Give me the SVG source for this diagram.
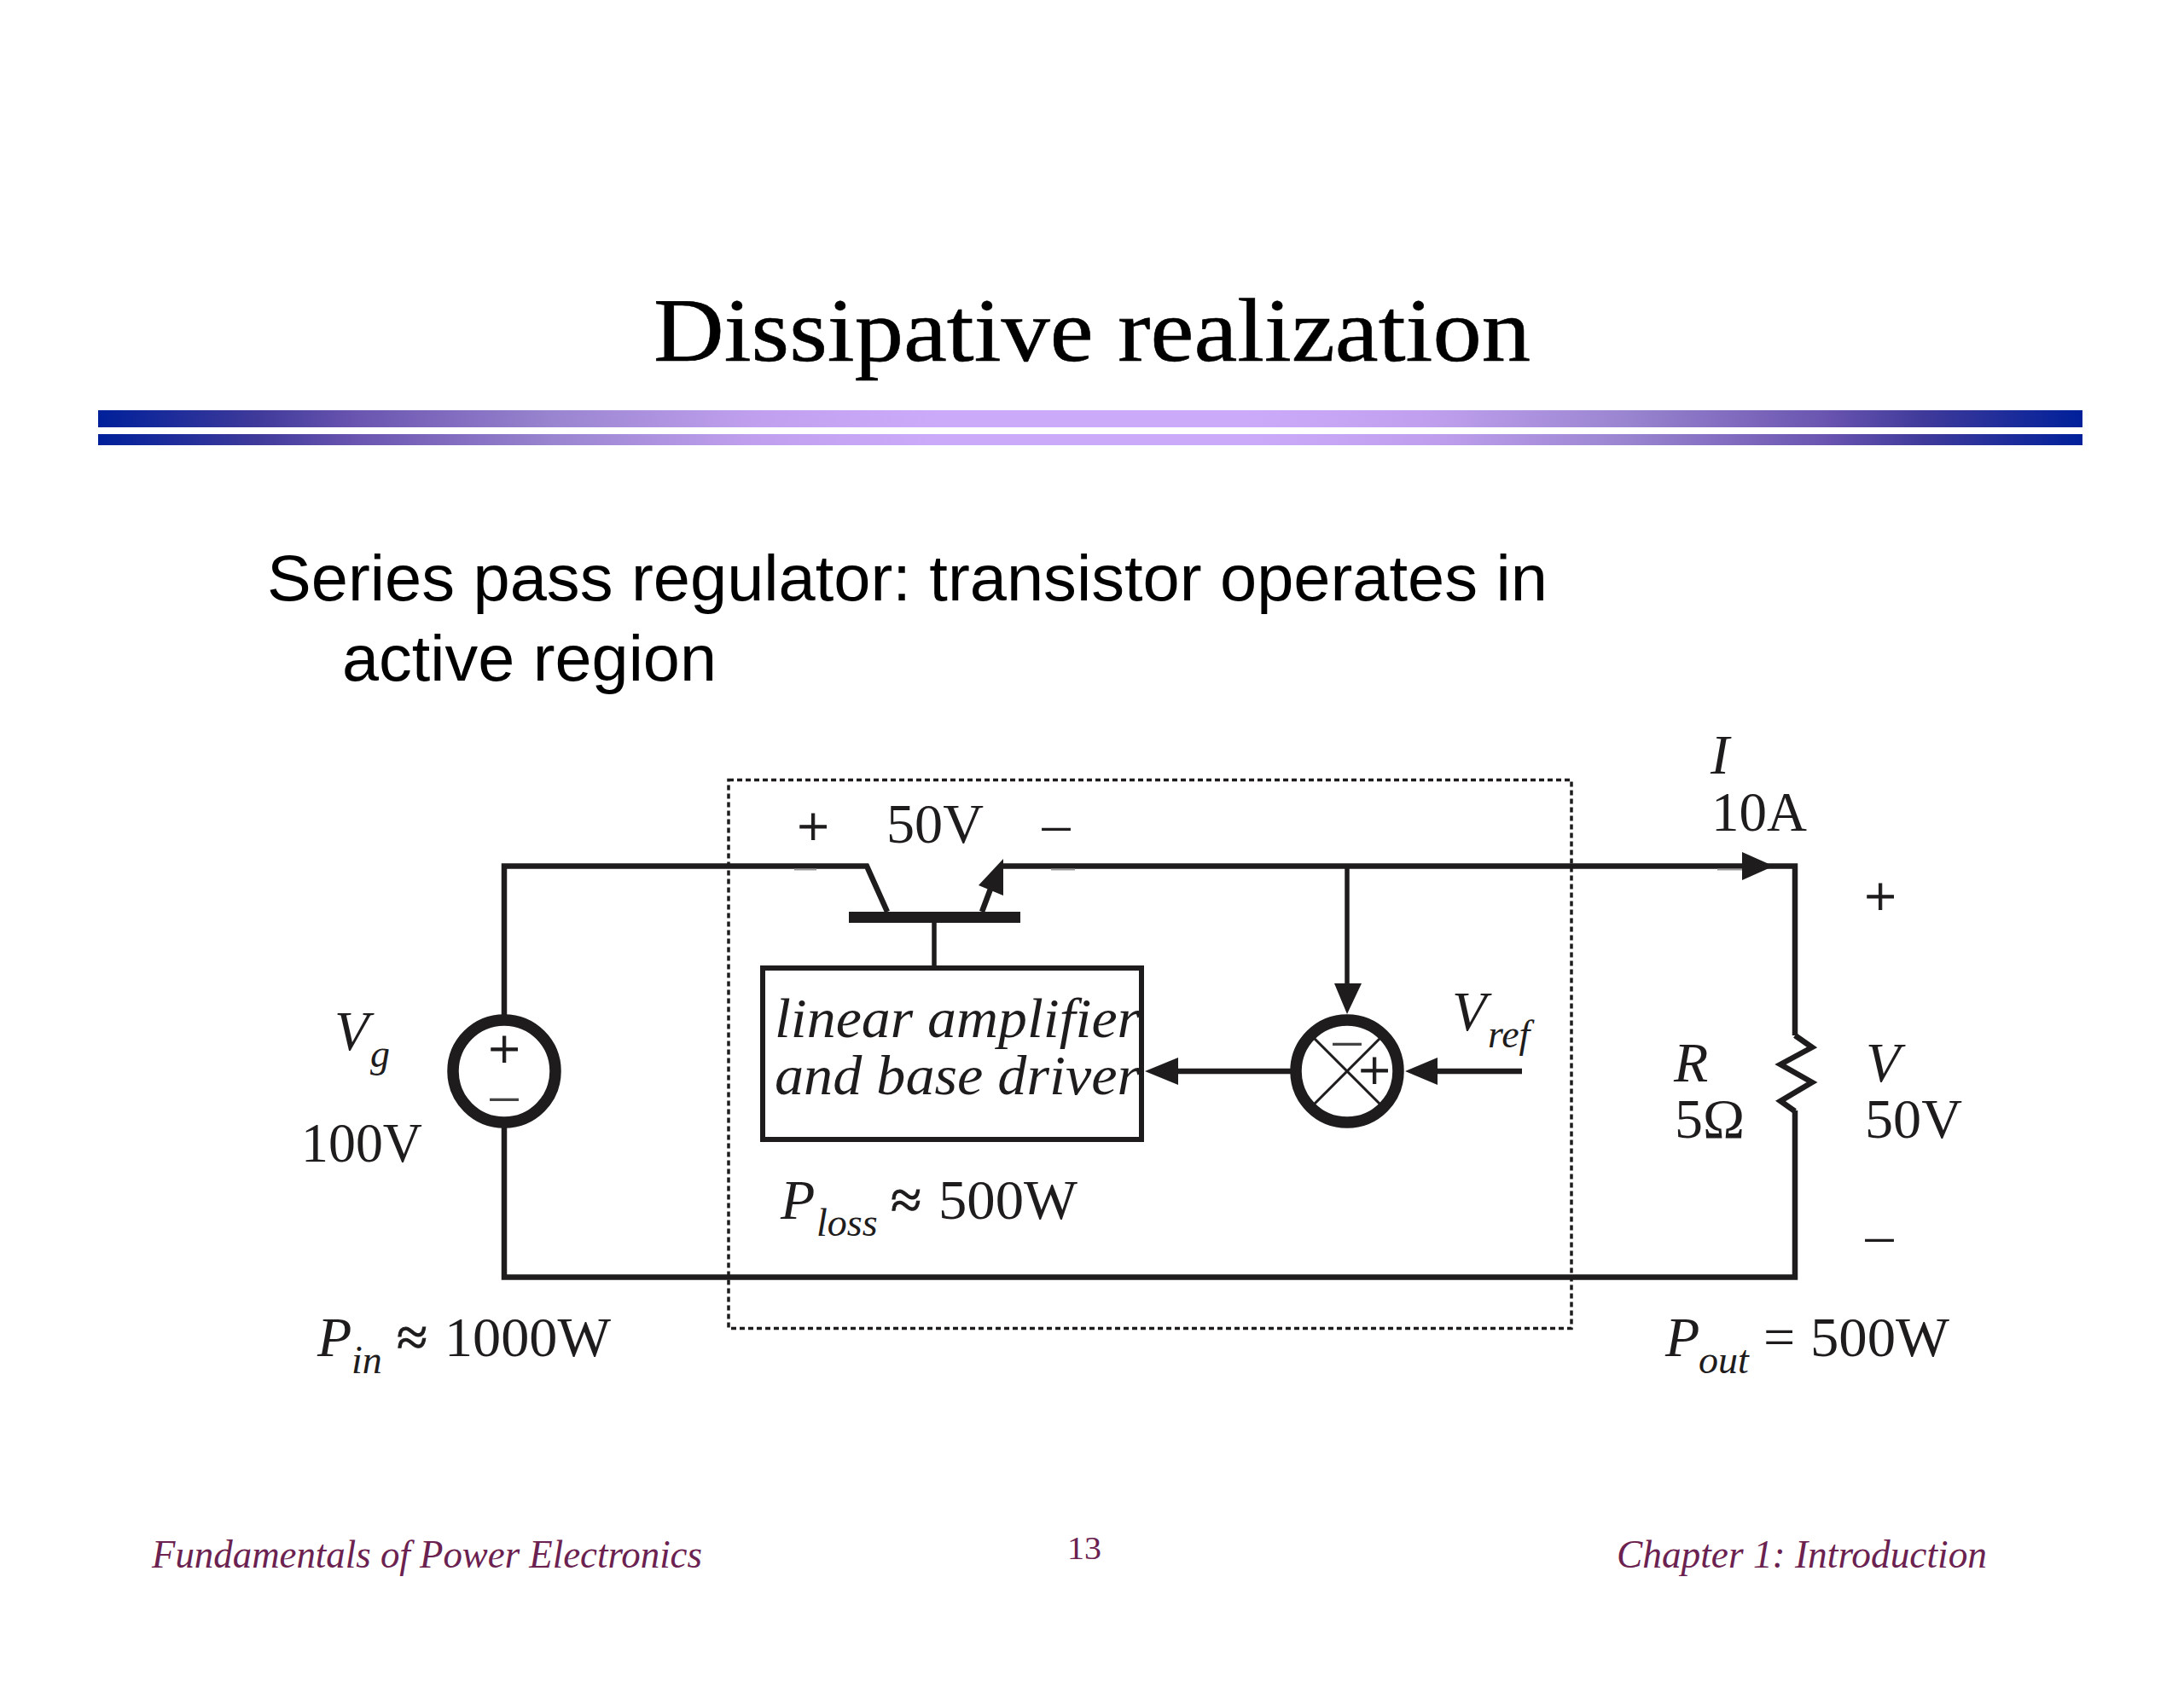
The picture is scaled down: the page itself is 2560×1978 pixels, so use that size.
<svg xmlns="http://www.w3.org/2000/svg" width="2560" height="1978" viewBox="0 0 2560 1978">
<style>
text{font-family:"Liberation Serif","Times New Roman",serif;fill:#1e1c1c;font-size:66px}
.i{font-style:italic}
.s{font-size:46px;font-style:italic}
.b{stroke:#1e1c1c;stroke-width:1}
.g{fill:#444}
.title{font-size:106px;fill:#000;stroke:#000;stroke-width:.6}
.body{font-family:"Liberation Sans",Arial,sans-serif;font-size:76px;fill:#000}
.foot{font-size:46px;font-style:italic;fill:#6b2250}
.num{font-size:38px;fill:#6b2250}
.w{fill:none;stroke:#1e1c1c;stroke-width:6.5;stroke-linejoin:miter}
.t{fill:none;stroke:#1e1c1c;stroke-width:5.5}
.m{fill:none;stroke:#999;stroke-width:2}
.ring{fill:#fff;stroke:#1e1c1c;stroke-width:13.5}
.ah{fill:#1e1c1c;stroke:none}
.dot{fill:none;stroke:#1e1c1c;stroke-width:3.5;stroke-dasharray:6 4}
</style>
<defs>
<linearGradient id="bar" x1="0" x2="1" y1="0" y2="0">
<stop offset="0" stop-color="#00209a"/>
<stop offset="0.08" stop-color="#3f3a9a"/>
<stop offset="0.13" stop-color="#6a55b0"/>
<stop offset="0.23" stop-color="#9a85d0"/>
<stop offset="0.33" stop-color="#c0a0ee"/>
<stop offset="0.42" stop-color="#ccaafa"/>
<stop offset="0.58" stop-color="#ccaafa"/>
<stop offset="0.67" stop-color="#c0a0ee"/>
<stop offset="0.77" stop-color="#9a85d0"/>
<stop offset="0.87" stop-color="#6a55b0"/>
<stop offset="0.92" stop-color="#3f3a9a"/>
<stop offset="1" stop-color="#00209a"/>
</linearGradient>
</defs>
<rect width="2560" height="1978" fill="#fff"/>
<g id="header">
<text class="title" x="766" y="423" textLength="1028" lengthAdjust="spacingAndGlyphs">Dissipative realization</text>
<rect x="115" y="481" width="2326" height="20" fill="url(#bar)"/>
<rect x="115" y="509" width="2326" height="13" fill="url(#bar)"/>
</g>
<g id="body">
<text class="body" x="313" y="704" textLength="1501" lengthAdjust="spacingAndGlyphs">Series pass regulator: transistor operates in</text>
<text class="body" x="401" y="798" textLength="439" lengthAdjust="spacingAndGlyphs">active region</text>
</g>
<rect id="boundary" class="dot" x="854" y="914.5" width="988" height="643"/>
<g id="connectors">
<path class="w" d="M1040 1069 L1016 1015.5 L591 1015.5 V1190"/>
<path class="w" d="M591 1320 V1497.5 H2104 V1302"/>
<path class="w" d="M1176 1015.5 H2104 V1214"/>
<path class="w" d="M1151 1069 L1163 1037"/>
<path class="t" d="M1095 1081 V1135"/>
<path class="t" d="M1579 1015 V1156"/>
<path class="w" d="M1514 1256 H1375"/>
<path class="w" d="M1784 1256 H1680"/>
<path class="ah" d="M1176 1007 V1050 L1147 1038 Z"/>
<path class="ah" d="M2079 1015.5 L2042 999 V1032 Z"/>
<path class="ah" d="M1579 1189 L1564 1153 H1596 Z"/>
<path class="ah" d="M1342 1256 L1381 1240 V1272 Z"/>
<path class="ah" d="M1647 1256 L1685 1240 V1272 Z"/>
<path class="w" d="M2104 1214 L2124 1228 L2087 1248 L2124 1269 L2087 1291 L2104 1303"/>
<path class="m" d="M931 1019.5 H957 M1232 1019.5 H1260 M2013 1019.5 H2042"/>
</g>
<g id="source">
<circle class="ring" cx="591" cy="1256" r="60"/>
<text class="b" x="591" y="1252" text-anchor="middle">+</text>
<text class="g" x="591" y="1305" text-anchor="middle">–</text>
<text class="i" x="392" y="1231">V</text>
<text class="s" x="434" y="1251">g</text>
<text x="353" y="1362" textLength="142" lengthAdjust="spacingAndGlyphs">100V</text>
</g>
<g id="transistor">
<rect x="995" y="1069" width="201" height="13" fill="#1e1c1c"/>
<text class="b" x="953" y="991" text-anchor="middle">+</text>
<text x="1039" y="988" textLength="114" lengthAdjust="spacingAndGlyphs">50V</text>
<text x="1238" y="988" text-anchor="middle">–</text>
</g>
<g id="amplifier">
<rect x="894" y="1135" width="444" height="201" fill="#fff" stroke="#1e1c1c" stroke-width="6"/>
<text class="i" x="908" y="1216" textLength="428" lengthAdjust="spacingAndGlyphs">linear amplifier</text>
<text class="i" x="908" y="1283" textLength="428" lengthAdjust="spacingAndGlyphs">and base driver</text>
</g>
<g id="summer">
<circle class="ring" cx="1579" cy="1256" r="60"/>
<path d="M1537 1214 L1621 1298 M1621 1214 L1537 1298" fill="none" stroke="#1e1c1c" stroke-width="3"/>
<text class="g" x="1579" y="1240" text-anchor="middle">–</text>
<text class="b" x="1611" y="1277" text-anchor="middle">+</text>
<text class="i" x="1702" y="1208">V</text>
<text class="s" x="1744" y="1228">ref</text>
</g>
<g id="ploss">
<text class="i" x="915" y="1429">P</text>
<text class="s" x="957" y="1449">loss</text>
<text class="b" x="1044" y="1429">≈</text>
<text x="1100" y="1429" textLength="163" lengthAdjust="spacingAndGlyphs">500W</text>
</g>
<g id="pin">
<text class="i" x="372" y="1590">P</text>
<text class="s" x="412" y="1610">in</text>
<text class="b" x="465" y="1590">≈</text>
<text x="521" y="1590" textLength="195" lengthAdjust="spacingAndGlyphs">1000W</text>
</g>
<g id="pout">
<text class="i" x="1952" y="1590">P</text>
<text class="s" x="1991" y="1610">out</text>
<text x="2067" y="1590">=</text>
<text x="2122" y="1590" textLength="163" lengthAdjust="spacingAndGlyphs">500W</text>
</g>
<g id="load">
<text class="i" x="2005" y="907">I</text>
<text x="2006" y="974" textLength="112" lengthAdjust="spacingAndGlyphs">10A</text>
<text class="b" x="2204" y="1073" text-anchor="middle">+</text>
<text class="i" x="1962" y="1268">R</text>
<text x="1963" y="1334">5Ω</text>
<text class="i" x="2187" y="1268">V</text>
<text x="2186" y="1334" textLength="114" lengthAdjust="spacingAndGlyphs">50V</text>
<text x="2203" y="1470" text-anchor="middle">–</text>
</g>
<g id="footer">
<text class="foot" x="178" y="1838" textLength="645" lengthAdjust="spacingAndGlyphs">Fundamentals of Power Electronics</text>
<text class="num" x="1251" y="1828" textLength="40" lengthAdjust="spacingAndGlyphs">13</text>
<text class="foot" x="1895" y="1838" textLength="434" lengthAdjust="spacingAndGlyphs">Chapter 1: Introduction</text>
</g>
</svg>
